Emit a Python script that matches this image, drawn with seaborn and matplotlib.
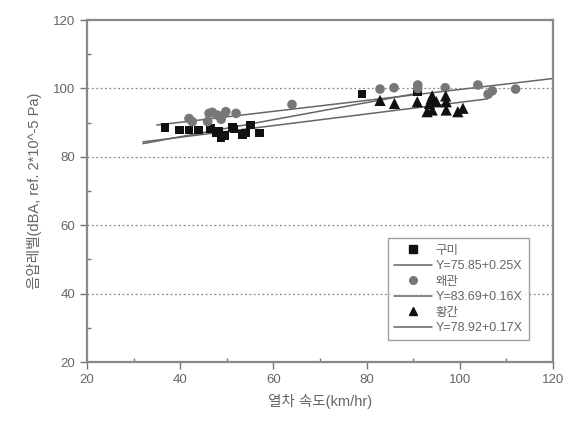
import seaborn as sns
import matplotlib.pyplot as plt
import numpy as np
import pandas as pd
from matplotlib.lines import Line2D

# 구미 (squares)
gumi_x = [36.7, 39.9, 41.9, 43.9, 46.5, 47.7, 48.3, 48.8, 49.5, 51.2, 51.6, 53.4, 54.0, 55.1, 57.0, 79.0, 91.0]
gumi_y = [88.6, 87.9, 87.9, 87.9, 88.3, 86.9, 87.5, 85.6, 86.2, 88.6, 88.1, 86.6, 87.0, 89.3, 87.0, 98.4, 99.0]
# 왜관 (circles)
wg_x = [41.9, 42.6, 45.9, 46.2, 46.9, 48.0, 48.8, 49.8, 52.0, 64.0, 82.9, 85.9, 91.0, 91.0, 96.9, 103.9, 106.1, 107.0, 112.0]
wg_y = [91.2, 90.3, 90.3, 92.7, 93.0, 92.2, 91.0, 93.2, 92.7, 95.3, 99.8, 100.2, 101.0, 100.0, 100.2, 101.0, 98.3, 99.3, 99.8]
# 황간 (triangles)
hg_x = [82.9, 86.0, 90.9, 93.0, 93.5, 94.1, 94.1, 95.0, 93.9, 97.0, 97.1, 97.1, 99.6, 100.7]
hg_y = [96.5, 95.6, 96.1, 93.2, 95.6, 97.8, 93.7, 96.1, 97.0, 97.8, 96.1, 93.7, 93.2, 94.2]

groups = ['구미', '왜관', '황간']
intercepts = [75.85, 83.69, 78.92]
slopes = [0.25, 0.16, 0.17]
line_x_ranges = [(32, 91), (35, 120), (32, 106)]
eq_labels = ['Y=75.85+0.25X', 'Y=83.69+0.16X', 'Y=78.92+0.17X']

df = pd.DataFrame({
    'speed': gumi_x + wg_x + hg_x,
    'level': gumi_y + wg_y + hg_y,
    'site': ['구미'] * len(gumi_x) + ['왜관'] * len(wg_x) + ['황간'] * len(hg_x),
})

sns.set_style('white')
plt.rcParams['font.family'] = ['Liberation Sans', 'Noto Sans CJK KR', 'DejaVu Sans']

fig = plt.figure(figsize=(5.78, 4.24), dpi=100)
ax = fig.add_axes([0.1505, 0.1462, 0.806, 0.8066])

markers = {'구미': 's', '왜관': 'o', '황간': '^'}
palette = {'구미': '#111111', '왜관': '#777777', '황간': '#111111'}
sizes = {'구미': 38, '왜관': 48, '황간': 66}

for g in groups:
    sub = df[df['site'] == g]
    sns.scatterplot(data=sub, x='speed', y='level', marker=markers[g], color=palette[g],
                    s=sizes[g], edgecolor='none', ax=ax, legend=False, zorder=3)

line_color = '#666666'
for b0, b1, (x0, x1) in zip(intercepts, slopes, line_x_ranges):
    xs = np.array([x0, x1])
    ax.plot(xs, b0 + b1 * xs, color=line_color, lw=1.1, zorder=2)

for yv in [40, 60, 80, 100]:
    ax.axhline(yv, color='#888888', lw=0.9, ls=(0, (1.5, 2)), zorder=1)

ax.set_xlim(20, 120)
ax.set_ylim(20, 120)
ax.set_xticks([20, 40, 60, 80, 100, 120])
ax.set_yticks([20, 40, 60, 80, 100, 120])
ax.set_xticks([30, 50, 70, 90, 110], minor=True)
ax.set_yticks([30, 50, 70, 90, 110], minor=True)

txt = '#666666'
ax.tick_params(axis='both', which='major', direction='out', length=5, width=1,
               color='#777777', labelsize=9.5, labelcolor=txt, bottom=True, left=True)
ax.tick_params(axis='both', which='minor', direction='in', length=3, width=1,
               color='#777777', bottom=True, left=True)
for s in ax.spines.values():
    s.set_color('#888888')
    s.set_linewidth(1.6)

ax.set_xlabel('열차 속도(km/hr)', fontsize=10.5, color=txt, labelpad=6)
ax.set_ylabel('음압레벨(dBA, ref. 2*10^-5 Pa)', fontsize=10.5, color=txt, labelpad=8)

handles = []
labels = []
for g, eq in zip(groups, eq_labels):
    handles.append(Line2D([], [], ls='none', marker=markers[g], color=palette[g], markersize=5.5))
    labels.append(g)
    handles.append(Line2D([], [], color=line_color, lw=1.1))
    labels.append(eq)
leg = ax.legend(handles, labels, loc='lower right', bbox_to_anchor=(0.962, 0.045),
                fontsize=9, frameon=True, fancybox=False, handlelength=3.0,
                labelspacing=0.28, borderpad=0.5, handletextpad=0.3)
leg.get_frame().set_edgecolor('#888888')
leg.get_frame().set_linewidth(1.0)
for t in leg.get_texts():
    t.set_color(txt)

fig.savefig('out.png', dpi=100)
